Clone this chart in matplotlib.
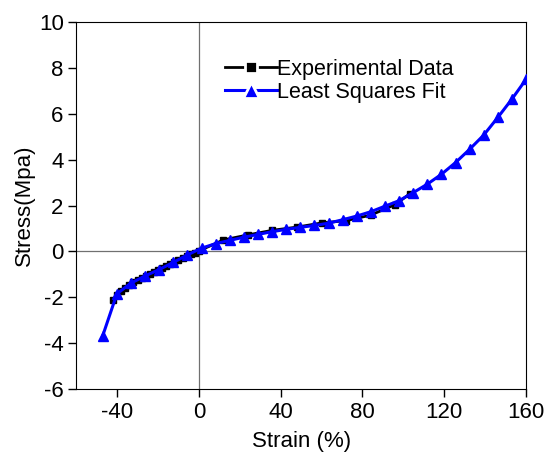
import matplotlib
matplotlib.use("Agg")
import matplotlib.pyplot as plt
from matplotlib.lines import Line2D

plt.rcParams["font.family"] = ["Liberation Sans", "DejaVu Sans"]
plt.rcParams["axes.unicode_minus"] = False

# experimental data (strain %, stress MPa)
exp_strain = [-42, -40, -38, -36, -34, -32, -30, -28, -26, -24, -22, -20,
              -18, -16, -14, -12, -10, -8, -6, -4, -2, 0,
              12, 24, 36, 48, 60, 72, 84, 96, 103]
exp_stress = [-2.10, -1.90, -1.72, -1.58, -1.46, -1.35, -1.25, -1.16, -1.07,
              -0.99, -0.91, -0.83, -0.74, -0.65, -0.56, -0.48, -0.39, -0.30,
              -0.21, -0.13, -0.05, 0.02,
              0.50, 0.72, 0.92, 1.06, 1.24, 1.34, 1.58, 2.04, 2.50]

# least squares fit
fit_strain = [-47, -40.1, -33.2, -26.3, -19.4, -12.5, -5.6, 1.3, 8.2, 15.1,
              22, 28.9, 35.8, 42.7, 49.6, 56.5, 63.4, 70.3, 77.2, 84.1, 91,
              97.9, 104.8, 111.7, 118.6, 125.5, 132.4, 139.3, 146.2, 153.1, 160]
fit_stress = [-3.67, -1.85, -1.38, -1.07, -0.79, -0.48, -0.15, 0.14, 0.34,
              0.48, 0.62, 0.74, 0.86, 0.96, 1.05, 1.13, 1.23, 1.38, 1.54,
              1.73, 1.97, 2.21, 2.56, 2.93, 3.36, 3.87, 4.45, 5.07, 5.84,
              6.64, 7.50]

fig = plt.figure(figsize=(5.48, 4.66), dpi=100)
ax = fig.add_axes([0.139, 0.165, 0.821, 0.788])

# zero lines
ax.axhline(0, color="#707070", lw=0.9, zorder=1)
ax.axvline(0, color="#707070", lw=0.9, zorder=1)

ax.plot(exp_strain, exp_stress, color="black", lw=2, marker="s",
        markersize=4.5, zorder=2)
ax.plot(fit_strain, fit_stress, color="blue", lw=2.2, marker="^",
        markersize=6.5, zorder=3)

ax.set_xlim(-60, 160)
ax.set_ylim(-6, 10)
ax.set_xticks([-40, 0, 40, 80, 120, 160])
ax.set_yticks(range(-6, 11, 2))
ax.tick_params(direction="out", length=5.5, width=1, labelsize=16,
               top=False, right=False)

ax.set_xlabel("Strain (%)", fontsize=16, labelpad=6)
ax.set_ylabel("Stress(Mpa)", fontsize=16, labelpad=3)

# legend handles: marker with small gap to the line
h_exp = Line2D([], [], color="black", lw=2, marker="s", markersize=8,
               markerfacecolor="black", markeredgecolor="white",
               markeredgewidth=2)
h_fit = Line2D([], [], color="blue", lw=2.2, marker="^", markersize=11,
               markerfacecolor="blue", markeredgecolor="white",
               markeredgewidth=2)
ax.legend([h_exp, h_fit], ["Experimental Data", "Least Squares Fit"],
          loc="upper left", bbox_to_anchor=(0.331, 0.90), frameon=False,
          fontsize=15.5, handlelength=2.4, handletextpad=0.0,
          borderpad=0, borderaxespad=0, labelspacing=0.1)

fig.savefig("out.png", dpi=100)
